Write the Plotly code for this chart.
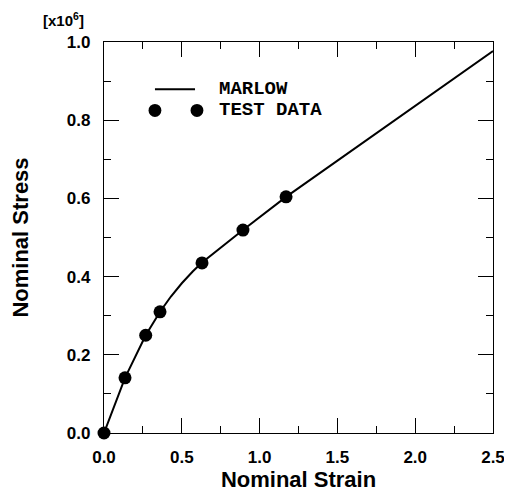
import plotly.graph_objects as go

# test data
test_strain = [0.0, 0.135, 0.268, 0.36, 0.63, 0.893, 1.17]
test_stress = [0.0, 0.141, 0.25, 0.31, 0.435, 0.519, 0.604]

# Marlow fit curve
marlow_strain = [0.0, 0.135, 0.268, 0.36, 0.43, 0.50, 0.57, 0.63, 0.893, 1.17, 2.5]
marlow_stress = [0.0, 0.141, 0.25, 0.31, 0.349, 0.383, 0.413, 0.436, 0.519, 0.604, 0.977]

x_ticks = [0.0, 0.5, 1.0, 1.5, 2.0, 2.5]
y_ticks = [0.0, 0.2, 0.4, 0.6, 0.8, 1.0]

tick_font = dict(family="Liberation Sans", size=17, color="black")
title_font = dict(family="Liberation Sans", size=22, color="black")
mono_font = dict(family="Liberation Mono", size=19, color="black")

fig = go.Figure()
fig.add_trace(go.Scatter(
    x=marlow_strain, y=marlow_stress, mode="lines",
    line=dict(color="black", width=2),
    showlegend=False, hoverinfo="skip",
))
fig.add_trace(go.Scatter(
    x=test_strain, y=test_stress, mode="markers",
    marker=dict(color="black", size=13),
    showlegend=False, cliponaxis=False,
))

axis_common = dict(
    showgrid=False, zeroline=False, showline=True, linecolor="black", linewidth=1.2,
    mirror="allticks", ticks="inside", ticklen=15, tickwidth=1.2, tickcolor="black",
    tickfont=tick_font, automargin=False,
    minor=dict(ticks="inside", ticklen=7, tickwidth=1.2, tickcolor="black"),
)

fig.update_xaxes(
    range=[0, 2.5], tickvals=x_ticks, ticktext=[f"<b>{v:.1f}</b>" for v in x_ticks],
    minor_dtick=0.25, ticklabelstandoff=8,
    title=dict(text="<b>Nominal Strain</b>", font=title_font, standoff=6),
    **axis_common,
)
fig.update_yaxes(
    range=[0, 1.0], tickvals=y_ticks, ticktext=[f"<b>{v:.1f}</b>" for v in y_ticks],
    minor_dtick=0.1, ticklabelstandoff=9,
    title=dict(text="<b>Nominal Stress</b>", font=title_font, standoff=40),
    **axis_common,
)

# hand-drawn legend box contents, as in the original figure
fig.add_shape(type="line", xref="paper", yref="paper",
              x0=0.131, x1=0.234, y0=0.879, y1=0.879,
              line=dict(color="black", width=2))
for cx in [0.131, 0.239]:
    fig.add_shape(type="circle", xref="paper", yref="paper",
                  x0=cx - 0.0165, x1=cx + 0.0165, y0=0.825 - 0.0165, y1=0.825 + 0.0165,
                  fillcolor="black", line=dict(color="black", width=0))
fig.add_annotation(xref="paper", yref="paper", x=0.29, y=0.879, xanchor="left",
                   yanchor="middle", text="<b>MARLOW</b>", showarrow=False, font=mono_font)
fig.add_annotation(xref="paper", yref="paper", x=0.29, y=0.825, xanchor="left",
                   yanchor="middle", text="<b>TEST DATA</b>", showarrow=False, font=mono_font)

fig.add_annotation(xref="paper", yref="paper", x=-0.163, y=1.058, xanchor="left",
                   yanchor="middle", text="<b>[x10<sup>6</sup>]</b>", showarrow=False,
                   font=dict(family="Liberation Sans", size=15, color="black"))

# the page body keeps an 8px margin, so the figure is drawn 8px smaller
fig.update_layout(
    width=504, height=492,
    margin=dict(l=96, r=19, t=34, b=67),
    plot_bgcolor="white", paper_bgcolor="white",
)

fig.write_html("out.html")
